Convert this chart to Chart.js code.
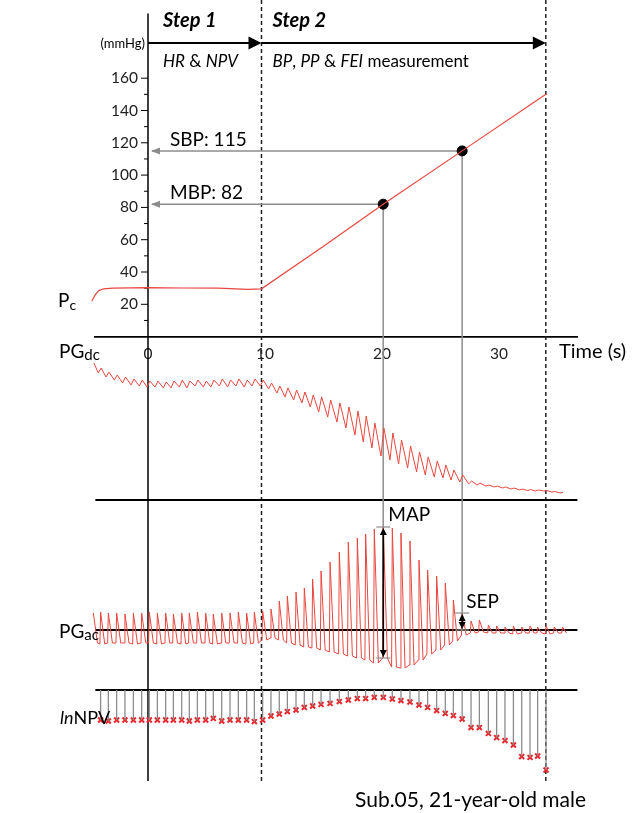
<!DOCTYPE html>
<html lang="en">
<head>
<meta charset="UTF-8">
<title>Pc, PG and lnNPV</title>
<script src="https://cdn.jsdelivr.net/npm/chart.js@4.4.0/dist/chart.umd.min.js"></script>
<style>
  body { margin: 0; background: #fff; }
</style>
</head>
<body>
<canvas id="chart" width="639" height="813"></canvas>
<script>
// axis ticks
const timeTicks = [0, 10, 20, 30];
const pcTicks = [20, 40, 60, 80, 100, 120, 140, 160];
const pcMinorTicks = [10, 30, 50, 70, 90, 110, 130, 150];

// cuff pressure Pc (mmHg) against time (s)
const pcT = [-4.8, -4.5, -4.2, -3.8, -3.0, 0, 3, 6, 7.5, 8.5, 9.7, 15, 20.1, 26.85, 34.1];
const pcV = [22, 26, 28.5, 29.6, 30, 30.3, 30.1, 30, 29.6, 29.2, 29.6, 56, 82, 115, 150.5];

// step boundaries (s)
const stepStart = 9.7;
const stepEnd = 34.0;

// read-off points: MBP and SBP
const measT = [20.1, 26.85];
const measP = [82, 115];
const measLabels = ['MBP: 82', 'SBP: 115'];

// one entry per heart beat
const beatT = [-4.67, -4.05, -3.39, -2.68, -1.97, -1.25, -0.54, 0.11, 0.80, 1.51, 2.17, 2.88, 3.53, 4.22,
  4.93, 5.58, 6.30, 7.01, 7.72, 8.43, 9.09, 9.80, 10.51, 11.22, 11.91, 12.65, 13.36, 14.07, 14.79, 15.56,
  16.35, 17.12, 17.89, 18.60, 19.34, 20.11, 20.88, 21.62, 22.39, 23.16, 23.90, 24.67, 25.41, 26.10, 26.85,
  27.61, 28.32, 29.09, 29.80, 30.51, 31.23, 31.94, 32.65, 33.30, 34.02, 34.72, 35.42];

// PGdc (a.u.), top and bottom of each beat
const dcHigh = [91.3, 88.0, 85.3, 83.3, 82.0, 80.7, 80.0, 79.3, 79.3, 78.7, 79.3, 80.0, 79.3, 80.0, 79.3,
  80.0, 80.7, 80.0, 80.7, 80.0, 80.7, 80.0, 78.0, 76.0, 74.7, 73.3, 72.0, 70.0, 68.7, 66.7, 64.7, 62.0,
  59.3, 56.0, 51.3, 48.0, 44.7, 40.0, 36.0, 32.0, 28.7, 26.0, 23.3, 20.0, 16.7, 12.7, 11.3, 10.0, 9.3,
  8.7, 8.0, 7.3, 7.0, 6.7, 6.3, 5.7, 5.0];
const dcLow = [89.3, 84.7, 82.0, 80.0, 78.0, 76.7, 76.0, 75.3, 75.3, 74.7, 74.7, 75.3, 74.7, 76.0, 75.3,
  75.3, 76.0, 75.3, 76.0, 75.3, 76.0, 76.0, 74.0, 71.3, 68.7, 66.7, 64.7, 62.0, 58.7, 55.3, 52.0, 48.0,
  43.3, 38.7, 34.7, 29.3, 26.7, 24.0, 21.3, 18.7, 16.7, 15.3, 14.7, 13.3, 12.0, 10.7, 10.0, 9.3, 8.7,
  8.0, 7.3, 6.7, 6.3, 6.0, 6.0, 5.3, 4.7];

// PGac (a.u.), peak and trough of each beat
const acHigh = [3.4, 3.6, 3.4, 3.4, 3.2, 3.4, 3.4, 3.6, 3.4, 3.4, 3.2, 3.4, 3.4, 3.6, 3.4, 3.2, 3.4, 3.4,
  3.6, 3.4, 3.6, 3.8, 4.2, 5.8, 6.8, 7.6, 8.4, 10.2, 11.8, 13.6, 15.6, 17.6, 18.4, 19.2, 20.2, 20.6, 20.4,
  19.4, 17.8, 14.0, 12.0, 10.8, 9.4, 6.0, 3.4, 1.8, 2.0, 1.0, 0.8, 0.6, 0.8, 0.6, 0.8, 0.6, 0.8, 0.6, 0.6];
const acLow = [-2.6, -2.8, -2.6, -2.6, -2.6, -2.8, -2.6, -2.6, -2.8, -2.6, -2.6, -2.8, -2.6, -2.6, -2.6,
  -2.8, -2.6, -2.6, -2.6, -2.8, -2.6, -2.0, -1.6, -2.0, -2.6, -3.0, -3.4, -3.6, -4.0, -4.4, -4.8, -5.2,
  -5.6, -6.0, -6.6, -5.6, -7.4, -7.6, -7.0, -6.0, -4.8, -4.0, -3.0, -2.2, -1.0, -0.6, -0.4, -0.6, -0.6,
  -0.6, -0.8, -0.6, -0.6, -0.6, -0.8, -0.6, -0.6];
const mapBeat = 35;
const sepBeat = 44;

// lnNPV of each beat
const lnNPV = [null, -1.50, -1.55, -1.50, -1.50, -1.50, -1.50, -1.50, -1.50, -1.50, -1.50, -1.50, -1.55,
  -1.50, -1.50, -1.42, -1.55, -1.50, -1.50, -1.50, -1.58, -1.50, -1.30, -1.20, -1.08, -1.00, -0.87, -0.80,
  -0.72, -0.67, -0.58, -0.50, -0.43, -0.43, -0.37, -0.37, -0.45, -0.53, -0.60, -0.75, -0.87, -1.03, -1.17,
  -1.28, -1.45, -1.88, -1.88, -2.17, -2.38, -2.53, -2.75, -3.33, -3.37, -3.30, -4.00, null, null];

const RED = '#e8473f';
const GREY = '#8c8c8c';
const FONT = 'Lato';
const AREA_H = 781;

// each panel shares the full chart height, so give every y scale its own range
function band(zeroPx, pxPerUnit) {
  return { min: (zeroPx - AREA_H) / pxPerUnit, max: zeroPx / pxPerUnit };
}

function dcPoints() {
  const pts = [];
  beatT.forEach((t, i) => {
    pts.push({ x: t - 0.2, y: dcLow[i] });
    pts.push({ x: t + 0.05, y: dcHigh[i] });
  });
  return pts;
}

function acPoints() {
  const pts = [];
  beatT.forEach((t, i) => {
    pts.push({ x: t - 0.06, y: acLow[i] });
    pts.push({ x: t, y: acHigh[i] });
    pts.push({ x: t + 0.35, y: acLow[i] });
  });
  return pts;
}

function stemPoints() {
  const pts = [];
  beatT.forEach((t, i) => {
    if (lnNPV[i] === null) return;
    pts.push({ x: t, y: 0 }, { x: t, y: lnNPV[i] }, { x: t, y: null });
  });
  return pts;
}

function text(ctx, s, x, y, size, style, align, color) {
  ctx.font = (style || '') + ' ' + size + 'px ' + FONT;
  ctx.textAlign = align || 'left';
  ctx.textBaseline = 'middle';
  ctx.fillStyle = color || '#000';
  ctx.fillText(s, x, y);
  return ctx.measureText(s).width;
}

function runs(ctx, parts, x, y, size) {
  parts.forEach(p => { x += text(ctx, p[0], x, y, size, p[1] ? 'italic' : ''); });
}

function head(ctx, x, y, dir, len, half, color) {
  ctx.fillStyle = color;
  ctx.beginPath();
  ctx.moveTo(x, y);
  if (dir === 'left') { ctx.lineTo(x + len, y - half); ctx.lineTo(x + len, y + half); }
  if (dir === 'right') { ctx.lineTo(x - len, y - half); ctx.lineTo(x - len, y + half); }
  if (dir === 'up') { ctx.lineTo(x - half, y + len); ctx.lineTo(x + half, y + len); }
  if (dir === 'down') { ctx.lineTo(x - half, y - len); ctx.lineTo(x + half, y - len); }
  ctx.closePath();
  ctx.fill();
}

function line(ctx, x1, y1, x2, y2, color, width, dash) {
  ctx.save();
  ctx.strokeStyle = color;
  ctx.lineWidth = width;
  ctx.setLineDash(dash || []);
  ctx.beginPath();
  ctx.moveTo(x1, y1);
  ctx.lineTo(x2, y2);
  ctx.stroke();
  ctx.restore();
}

function doubleArrow(ctx, x, y1, y2) {
  line(ctx, x - 7, y1, x + 7, y1, GREY, 1.2);
  line(ctx, x - 7, y2, x + 7, y2, GREY, 1.2);
  line(ctx, x, y1 + 3, x, y2 - 3, '#000', 1.6);
  head(ctx, x, y1 + 1, 'up', 7, 3.5, '#000');
  head(ctx, x, y2 - 1, 'down', 7, 3.5, '#000');
}

const figure = {
  id: 'figure',
  beforeDatasetsDraw(chart) {
    const { ctx, chartArea: a, scales: s } = chart;
    const X = v => s.x.getPixelForValue(v);
    const x0 = X(0);
    // time 0 axis (also the Pc axis) and step boundaries
    line(ctx, x0, s.yPc.getPixelForValue(200), x0, a.bottom, '#000', 1.5);
    [stepStart, stepEnd].forEach(t => line(ctx, X(t), a.top, X(t), a.bottom, '#222', 1.5, [4, 3]));
    // Pc ticks and labels
    pcMinorTicks.forEach(v => {
      const y = s.yPc.getPixelForValue(v);
      line(ctx, x0 - 4, y, x0, y, '#000', 1);
    });
    pcTicks.forEach(v => {
      const y = s.yPc.getPixelForValue(v);
      line(ctx, x0 - 7, y, x0, y, '#000', 1);
      text(ctx, String(v), x0 - 10, y, 15.5, '', 'right', '#222');
    });
    // panel base lines
    [s.yDc, s.yAc, s.yNpv].forEach(sc => {
      const y = sc.getPixelForValue(0);
      line(ctx, a.left, y, a.right, y, '#000', 1.8);
    });
    // MBP / SBP read-off guides
    const ends = [s.yAc.getPixelForValue(acLow[mapBeat]), s.yAc.getPixelForValue(0)];
    measT.forEach((t, i) => {
      const y = s.yPc.getPixelForValue(measP[i]);
      line(ctx, x0 + 4, y, X(t), y, GREY, 1.5);
      head(ctx, x0 + 3, y, 'left', 9, 3.5, GREY);
      line(ctx, X(t), y, X(t), ends[i], GREY, 1.5);
    });
  },
  afterDatasetsDraw(chart) {
    const { ctx, chartArea: a, scales: s } = chart;
    const X = v => s.x.getPixelForValue(v);
    const x0 = X(0), x1 = X(stepStart), x2 = X(stepEnd);

    // step header
    const ya = a.top + 43;
    line(ctx, x0, ya, x1 - 10, ya, '#000', 2);
    head(ctx, x1, ya, 'right', 13, 6.5, '#000');
    line(ctx, x1, ya, x2 - 10, ya, '#000', 2);
    head(ctx, x2, ya, 'right', 13, 6.5, '#000');
    text(ctx, 'Step 1', x0 + 15, a.top + 21, 20, 'italic bold');
    text(ctx, 'Step 2', x1 + 11, a.top + 21, 20, 'italic bold');
    runs(ctx, [['HR', 1], [' & ', 0], ['NPV', 1]], x0 + 15, a.top + 62, 17);
    runs(ctx, [['BP', 1], [', ', 0], ['PP', 1], [' & ', 0], ['FEI', 1], [' measurement', 0]], x1 + 11, a.top + 62, 17);
    text(ctx, '(mmHg)', x0 - 3, a.top + 44, 13, '', 'right');

    // read-off labels
    measLabels.forEach((lab, i) => {
      text(ctx, lab, x0 + 22, s.yPc.getPixelForValue(measP[i]) - 11, 19);
    });
    text(ctx, 'Time (s)', 559, s.yPc.getPixelForValue(0) + 15, 20);

    // MAP and SEP
    const xm = X(beatT[mapBeat]);
    const mTop = s.yAc.getPixelForValue(acHigh[mapBeat]);
    doubleArrow(ctx, xm, mTop, s.yAc.getPixelForValue(acLow[mapBeat]));
    text(ctx, 'MAP', xm + 5, mTop - 12, 19);
    const xs = X(beatT[sepBeat]);
    const sTop = s.yAc.getPixelForValue(acHigh[sepBeat]);
    doubleArrow(ctx, xs, sTop, s.yAc.getPixelForValue(0));
    text(ctx, 'SEP', xs + 4, sTop - 11, 19);

    // panel names
    const yP = s.yPc.getPixelForValue(22);
    const wP = text(ctx, 'P', 58, yP, 19);
    text(ctx, 'c', 58 + wP, yP + 4, 14);
    [[s.yDc, 352 - s.yDc.getPixelForValue(0), 'dc'], [s.yAc, 2, 'ac']].forEach(d => {
      const y = d[0].getPixelForValue(0) + d[1];
      const w = text(ctx, 'PG', 59, y, 19);
      text(ctx, d[2], 59 + w, y + 3, 15);
    });
    runs(ctx, [['ln', 1], ['NPV', 0]], 60, s.yNpv.getPixelForValue(-1.4), 18);

    text(ctx, 'Sub.05, 21-year-old male', 355, 800, 21);
  }
};

Chart.defaults.font.family = FONT;
Chart.defaults.color = '#222';

new Chart(document.getElementById('chart'), {
  type: 'line',
  data: {
    datasets: [
      {
        label: 'Pc', yAxisID: 'yPc', clip: false,
        data: pcT.map((t, i) => ({ x: t, y: pcV[i] })),
        borderColor: RED, borderWidth: 1.2, pointRadius: 0
      },
      {
        label: 'read-off', yAxisID: 'yPc', showLine: false,
        data: measT.map((t, i) => ({ x: t, y: measP[i] })),
        pointRadius: 5, pointBackgroundColor: '#000', pointBorderColor: '#000'
      },
      {
        label: 'PGdc', yAxisID: 'yDc', clip: false,
        data: dcPoints(), borderColor: RED, borderWidth: 1, pointRadius: 0
      },
      {
        label: 'PGac', yAxisID: 'yAc', clip: false,
        data: acPoints(), borderColor: RED, borderWidth: 1, pointRadius: 0
      },
      {
        label: 'lnNPV stems', yAxisID: 'yNpv', spanGaps: false,
        data: stemPoints(), borderColor: GREY, borderWidth: 1.3, pointRadius: 0
      },
      {
        label: 'lnNPV', yAxisID: 'yNpv', showLine: false,
        data: beatT.map((t, i) => ({ x: t, y: lnNPV[i] })).filter(p => p.y !== null),
        pointStyle: 'crossRot', pointRadius: 3.5, pointBorderWidth: 2,
        pointBorderColor: '#e8262b', pointBackgroundColor: '#e8262b'
      }
    ]
  },
  options: {
    responsive: false,
    animation: false,
    devicePixelRatio: 1,
    layout: { autoPadding: false, padding: { left: 95.35, right: 61.6, top: 0, bottom: 32 } },
    plugins: { legend: { display: false }, tooltip: { enabled: false } },
    elements: { line: { tension: 0 } },
    scales: {
      x: {
        type: 'linear', min: -4.5, max: 36.7,
        position: { yPc: 0 },
        afterFit: sc => { sc.height = 0; },
        afterBuildTicks: sc => { sc.ticks = timeTicks.map(v => ({ value: v })); },
        grid: { display: false, drawTicks: false },
        border: { display: true, color: '#000', width: 1.8 },
        ticks: { font: { size: 15.5 }, padding: 8, maxRotation: 0 }
      },
      yPc: { type: 'linear', display: false, ...band(336.6, 1.615) },
      yDc: { type: 'linear', display: false, ...band(500, 1.5) },
      yAc: { type: 'linear', display: false, ...band(630, 5) },
      yNpv: { type: 'linear', display: false, ...band(690, 20) }
    }
  },
  plugins: [figure]
});
</script>
</body>
</html>
